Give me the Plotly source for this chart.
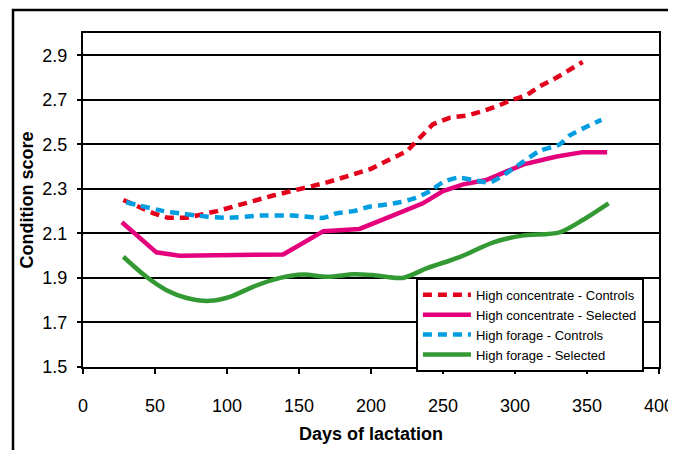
import plotly.graph_objects as go

# Data
hc_ctrl_days = [28, 49, 59, 72, 93, 114, 132, 170, 200, 225, 234, 243, 255, 267, 278, 287, 298, 308, 317, 329, 347]
hc_ctrl_vals = [2.25, 2.19, 2.17, 2.17, 2.20, 2.24, 2.27, 2.33, 2.39, 2.47, 2.53, 2.59, 2.62, 2.63, 2.65, 2.67, 2.70, 2.72, 2.76, 2.80, 2.87]

hc_sel_days = [27, 51, 67, 100, 139, 167, 192, 215, 236, 250, 264, 280, 306, 329, 347, 364]
hc_sel_vals = [2.15, 2.015, 2.0, 2.0, 2.005, 2.11, 2.12, 2.18, 2.235, 2.29, 2.32, 2.34, 2.41, 2.445, 2.465, 2.465]

hf_ctrl_days = [30, 56, 67, 79, 100, 123, 146, 167, 176, 188, 199, 211, 220, 231, 241, 250, 260, 271, 283, 303, 317, 331, 338, 350, 360]
hf_ctrl_vals = [2.24, 2.20, 2.19, 2.18, 2.17, 2.18, 2.18, 2.17, 2.19, 2.20, 2.22, 2.23, 2.24, 2.26, 2.29, 2.33, 2.35, 2.34, 2.33, 2.41, 2.47, 2.50, 2.54, 2.58, 2.61]

hf_sel_days = [28, 44, 58, 72, 88, 102, 118, 137, 153, 170, 188, 201, 222, 239, 262, 285, 305, 331, 347, 365]
hf_sel_vals = [1.995, 1.905, 1.845, 1.81, 1.797, 1.815, 1.86, 1.90, 1.915, 1.905, 1.917, 1.913, 1.90, 1.944, 1.995, 2.06, 2.09, 2.105, 2.16, 2.235]

x_ticks = [0, 50, 100, 150, 200, 250, 300, 350, 400]
y_ticks = [1.5, 1.7, 1.9, 2.1, 2.3, 2.5, 2.7, 2.9]

FONT = "Liberation Sans, Arial, sans-serif"

fig = go.Figure()
fig.add_trace(go.Scatter(x=hc_ctrl_days, y=hc_ctrl_vals, mode="lines",
                         name="High concentrate - Controls",
                         line=dict(color="#E3001B", width=4.5, dash="9px,6px")))
fig.add_trace(go.Scatter(x=hc_sel_days, y=hc_sel_vals, mode="lines",
                         name="High concentrate - Selected",
                         line=dict(color="#E4007C", width=4.5)))
fig.add_trace(go.Scatter(x=hf_ctrl_days, y=hf_ctrl_vals, mode="lines",
                         name="High forage - Controls",
                         line=dict(color="#009EE0", width=4.5, dash="9px,6px", shape="spline", smoothing=0.6)))
fig.add_trace(go.Scatter(x=hf_sel_days, y=hf_sel_vals, mode="lines",
                         name="High forage - Selected",
                         line=dict(color="#339933", width=4.5, shape="spline", smoothing=0.8)))

fig.update_layout(
    width=668, height=442,
    margin=dict(l=75, r=17, t=25, b=83, autoexpand=False),
    paper_bgcolor="white", plot_bgcolor="white",
    font=dict(family=FONT, color="black", size=18),
    showlegend=True,
    legend=dict(x=0.578, y=0.267, xanchor="left", yanchor="top",
                bgcolor="white", bordercolor="black", borderwidth=2,
                font=dict(size=13, family=FONT), tracegroupgap=0,
                itemwidth=48),
    xaxis=dict(range=[0, 400], tickvals=x_ticks, ticks="outside", ticklen=5, tickwidth=1.5,
               tickcolor="black", showline=True, linecolor="black", linewidth=2, mirror=True,
               showgrid=False, zeroline=False, ticklabelstandoff=16, automargin=False,
               tickfont=dict(size=18),
               title=dict(text="<b>Days of lactation</b>", font=dict(size=18), standoff=13)),
    yaxis=dict(range=[1.5, 3.0], tickvals=y_ticks, tickformat=".1f", ticks="outside", ticklen=4,
               tickwidth=1.5, tickcolor="black", showline=True, linecolor="black", linewidth=2,
               mirror=True, showgrid=True, gridcolor="black", gridwidth=1.5, zeroline=False,
               ticklabelstandoff=6, tickfont=dict(size=18), automargin=False,
               title=dict(text="<b>Condition score</b>", font=dict(size=18), standoff=4)),
)

# outer frame of the original figure (left and top edges visible)
fig.add_shape(type="rect", xref="paper", yref="paper",
              x0=-0.1215, x1=1.3, y0=-0.6, y1=1.069,
              line=dict(color="black", width=2.5), layer="below")

fig.write_html("out.html")
